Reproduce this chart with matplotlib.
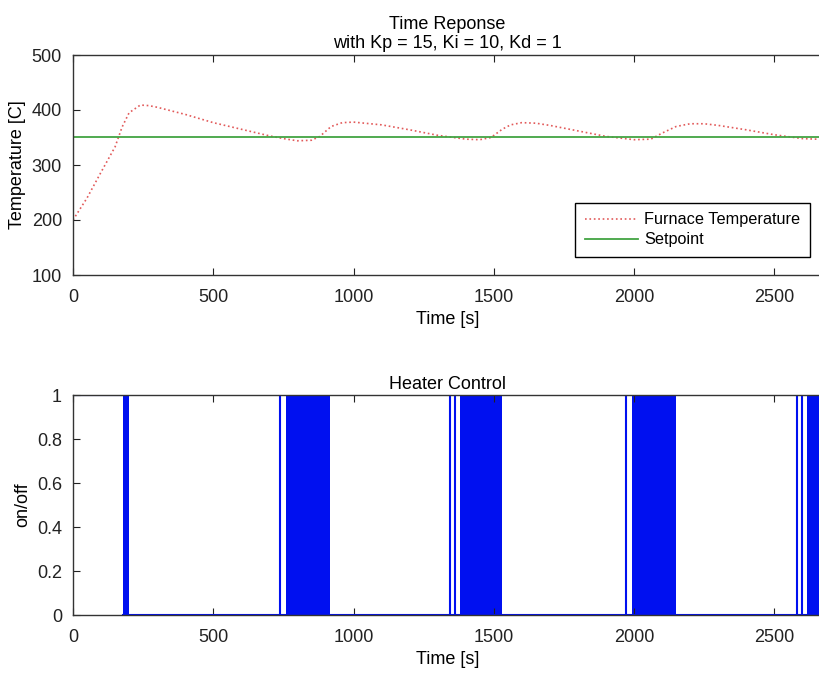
import matplotlib
matplotlib.use("Agg")
import matplotlib.pyplot as plt

# furnace temperature
time_s = [0, 50, 100, 150, 175, 200, 240, 270, 300, 400, 500, 600, 700, 750, 800,
          850, 880, 920, 960, 1000, 1100, 1200, 1300, 1400, 1450, 1490, 1530, 1560,
          1600, 1650, 1700, 1800, 1900, 2000, 2060, 2100, 2150, 2200, 2250, 2300,
          2400, 2500, 2600, 2700]
temperature = [200, 240, 287, 333, 369, 395, 409, 408, 405, 392, 377, 365, 353, 348, 344,
               345, 352, 370, 377, 378, 373, 364, 354, 347, 346, 350, 365, 373,
               377, 376, 372, 362, 352, 346, 347, 358, 370, 375, 375, 372,
               364, 355, 348, 346]
setpoint = 350

# heater: held on at start, single pulses and dense switching bands
heater_hold = (0, 179)
heater_pulses = [737, 1345, 1360, 1971, 2582, 2600]
heater_bands = [(177, 198), (758, 916), (1381, 1531), (1992, 2150), (2618, 2700)]

xmax = 2670
blue = "#0010f0"
spine = "#333333"

plt.rcParams["font.family"] = ["Liberation Sans", "DejaVu Sans"]
plt.rcParams["font.size"] = 13

fig = plt.figure(figsize=(8.19, 6.73), dpi=100)
ax1 = fig.add_axes([73 / 819, 1 - 275 / 673, (822 - 73) / 819, 220 / 673])
ax2 = fig.add_axes([73 / 819, 1 - 615 / 673, (822 - 73) / 819, 220 / 673])

# top panel
ax1.plot(time_s, temperature, linestyle=":", color="#e25a5a", linewidth=1.2,
         label="Furnace Temperature")
ax1.plot([0, xmax], [setpoint, setpoint], color="#42a442", linewidth=1.3, label="Setpoint")
ax1.set_xlim(0, xmax)
ax1.set_ylim(100, 500)
ax1.set_xticks([0, 500, 1000, 1500, 2000, 2500])
ax1.set_yticks([100, 200, 300, 400, 500])
ax1.set_xlabel("Time [s]", labelpad=4)
ax1.set_ylabel("Temperature [C]", labelpad=4)
ax1.set_title("Time Reponse\nwith Kp = 15, Ki = 10, Kd = 1", fontsize=13, linespacing=1.15, pad=5)
leg = ax1.legend(loc="lower right", bbox_to_anchor=(810 / 819, 1 - 257 / 673),
                 bbox_transform=fig.transFigure, frameon=True, fancybox=False,
                 framealpha=1, edgecolor="black", handlelength=3.3, handletextpad=0.35,
                 borderpad=0.6, labelspacing=0.3, borderaxespad=0, fontsize=11.7)
leg.get_frame().set_linewidth(1.0)

# bottom panel
ax2.plot(heater_hold, [1, 1], color=blue, linewidth=1.5)
ax2.plot([heater_hold[1], xmax], [0, 0], color=blue, linewidth=1.5)
ax2.vlines(heater_pulses, 0, 1, color=blue, linewidth=1.5)
for start, end in heater_bands:
    ax2.fill_between([start, end], 0, 1, color=blue, linewidth=0)
ax2.set_xlim(0, xmax)
ax2.set_ylim(0, 1)
ax2.set_xticks([0, 500, 1000, 1500, 2000, 2500])
ax2.set_yticks([0, 0.2, 0.4, 0.6, 0.8, 1])
ax2.set_yticklabels(["0", "0.2", "0.4", "0.6", "0.8", "1"])
ax2.set_xlabel("Time [s]", labelpad=4)
ax2.set_ylabel("on/off", labelpad=4)
ax2.set_title("Heater Control", fontsize=13, pad=4)

for ax in (ax1, ax2):
    ax.tick_params(direction="in", length=5, top=True, right=False, colors="#222222",
                   labelsize=13)
    ax.tick_params(axis="x", pad=10)
    ax.tick_params(axis="y", pad=8)
    ax.spines["right"].set_visible(False)
    for s in ("left", "bottom", "top"):
        ax.spines[s].set_color(spine)
        ax.spines[s].set_linewidth(1.0)

fig.savefig("out.png", dpi=100)
